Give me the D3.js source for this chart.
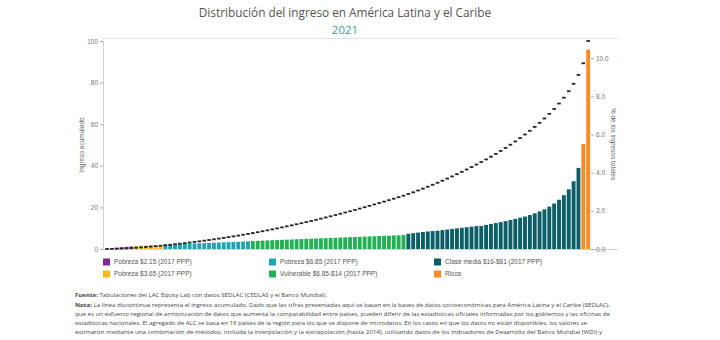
<!DOCTYPE html>
<html><head><meta charset="utf-8">
<script src="https://cdn.jsdelivr.net/npm/d3@7"></script>
<style>body{margin:0;background:#fff}svg{display:block}</style>
</head><body><svg id="c" width="720" height="340"></svg>
<script>
// Income share (% of total income) for each percentile of the income distribution
const shares = [
  0.02,0.05,0.07,0.09,0.11,0.13,
  0.15,0.17,0.18,0.19,0.20,0.21,
  0.23,0.24,0.25,0.26,0.27,0.28,0.29,0.30,0.31,0.32,0.33,0.34,0.35,0.36,0.37,0.38,0.39,0.40,
  0.42,0.43,0.44,0.45,0.46,0.47,0.48,0.49,0.50,0.51,0.52,0.53,0.54,0.55,0.56,0.57,
  0.58,0.59,0.60,0.61,0.62,0.63,0.64,0.65,0.66,0.67,0.68,0.69,0.70,0.71,0.72,0.73,
  0.80,0.83,0.86,0.89,0.92,0.94,0.96,0.99,1.02,1.05,1.08,1.11,1.14,1.17,1.20,
  1.21,1.26,1.31,1.36,1.41,1.46,1.52,1.58,1.64,1.70,1.78,1.87,1.97,2.08,2.22,2.38,
  2.58,2.82,3.13,3.55,4.25,
  5.50,10.45
];
// Cumulative income (%) for each percentile
const cumulative = [
  0.02,0.07,0.14,0.23,0.34,0.47,
  0.62,0.79,0.97,1.16,1.36,1.57,
  1.80,2.04,2.29,2.55,2.82,3.10,3.39,3.69,4.00,4.32,4.65,4.99,5.34,5.70,6.07,6.45,6.84,7.24,
  7.66,8.09,8.53,8.98,9.44,9.91,10.39,10.88,11.38,11.89,12.41,12.94,13.48,14.03,14.59,15.16,
  15.74,16.33,16.93,17.54,18.16,18.79,19.43,20.08,20.74,21.41,22.09,22.78,23.48,24.19,24.91,25.64,
  26.44,27.27,28.13,29.02,29.94,30.88,31.84,32.83,33.85,34.90,35.98,37.09,38.23,39.40,40.60,
  41.81,43.07,44.38,45.74,47.15,48.61,50.13,51.71,53.35,55.05,56.83,58.70,60.67,62.75,64.97,67.35,
  69.93,72.75,75.88,79.43,83.68,
  89.28,100.00
];
const percentiles = d3.range(1, 101);
const groupNames = [
  "Pobreza $2.15 (2017 PPP)",
  "Pobreza $3.65 (2017 PPP)",
  "Pobreza $6.85 (2017 PPP)",
  "Vulnerable $6.85-$14 (2017 PPP)",
  "Clase media $16-$81 (2017 PPP)",
  "Ricos"
];
const groupSizes = [6, 6, 18, 32, 36, 2];
const leftTicks = [0, 20, 40, 60, 80, 100];
const rightTicks = [0, 2, 4, 6, 8, 10];
const titleText = "Distribución del ingreso en América Latina y el Caribe";
const yearText = "2021";
const leftTitle = "Ingreso acumulado";
const rightTitle = "% de los ingresos totales";

const groupColors = ["#7d2b91", "#f8bb11", "#1fa4b2", "#22b155", "#0c5f66", "#fb8b24"];

// percentile -> group index
const groupOf = [];
groupSizes.forEach((n, g) => { for (let k = 0; k < n; k++) groupOf.push(g); });

const svg = d3.select("#c");
const sans = "'Liberation Sans', Arial, sans-serif";

// Title
svg.append("text").attr("x", 345).attr("y", 17).attr("text-anchor", "middle")
  .attr("font-family", "'Open Sans', sans-serif").attr("font-size", 11.8).attr("fill", "#555")
  .text(titleText);
svg.append("text").attr("x", 345).attr("y", 34).attr("text-anchor", "middle")
  .attr("font-family", "'Open Sans', sans-serif").attr("font-size", 11.5).attr("fill", "#3a9f8c")
  .text(yearText);

const x = d3.scaleBand().domain(percentiles).range([104.6, 590.6]).paddingInner(0.2).paddingOuter(0.1);
const yL = d3.scaleLinear().domain([0, 100]).range([249, 41]);
const yR = d3.scaleLinear().domain([0, 10.9]).range([249, 41]);

// frame lines
svg.append("line").attr("x1", 103).attr("x2", 618).attr("y1", 38.5).attr("y2", 38.5)
  .attr("stroke", "#e3e3e3").attr("stroke-width", 1);
svg.append("line").attr("x1", 103).attr("x2", 618).attr("y1", 249.5).attr("y2", 249.5)
  .attr("stroke", "#d0d0d0").attr("stroke-width", 1);

// Bars
svg.append("g").selectAll("rect").data(shares).join("rect")
  .attr("x", (d, i) => x(percentiles[i]))
  .attr("width", x.bandwidth())
  .attr("y", d => yR(d))
  .attr("height", d => yR(0) - yR(d))
  .attr("fill", (d, i) => groupColors[groupOf[i]]);

// Cumulative dashed markers
svg.append("g").selectAll("rect").data(cumulative).join("rect")
  .attr("x", (d, i) => x(percentiles[i]) + x.bandwidth() / 2 - 1.8)
  .attr("width", 3.6)
  .attr("y", d => yL(d) - 0.9)
  .attr("height", 1.8)
  .attr("fill", "#262626");

// Left axis
const gL = svg.append("g").attr("transform", "translate(103,0)")
  .call(d3.axisLeft(yL).tickValues(leftTicks).tickSize(3).tickPadding(2));
gL.select(".domain").attr("stroke", "#cfcfcf");
gL.selectAll(".tick line").attr("stroke", "#aaa");
gL.selectAll("text").attr("font-family", sans).attr("font-size", 6.5).attr("fill", "#777");

// Right axis
const gR = svg.append("g").attr("transform", "translate(591,0)")
  .call(d3.axisRight(yR).tickValues(rightTicks).tickFormat(d3.format(".1f")).tickSize(3).tickPadding(2));
gR.select(".domain").remove();
gR.selectAll(".tick line").attr("stroke", "#aaa");
gR.selectAll("text").attr("font-family", sans).attr("font-size", 6.5).attr("fill", "#777");

// Axis titles
svg.append("text").attr("transform", "translate(84,145) rotate(-90)").attr("text-anchor", "middle")
  .attr("font-family", sans).attr("font-size", 6.5).attr("fill", "#666").text(leftTitle);
svg.append("text").attr("transform", "translate(611,144) rotate(90)").attr("text-anchor", "middle")
  .attr("font-family", sans).attr("font-size", 6.5).attr("fill", "#666").text(rightTitle);

// Legend
const legendPos = [[103, 262], [103, 274], [269, 262], [269, 274], [434, 262], [434, 274]];
const lg = svg.append("g").selectAll("g").data(groupNames).join("g")
  .attr("transform", (d, i) => `translate(${legendPos[i][0]},${legendPos[i][1]})`);
lg.append("rect").attr("x", 0).attr("y", -3.5).attr("width", 7).attr("height", 7)
  .attr("fill", (d, i) => groupColors[i]);
lg.append("text").attr("x", 11).attr("y", 2.4).attr("font-family", sans).attr("font-size", 6.5)
  .attr("fill", "#555").text(d => d);

// Footnote
const notes = [
  [["Fuente:", true], [" Tabulaciones del LAC Equity Lab con datos SEDLAC (CEDLAS y el Banco Mundial).", false]],
  [["Nota:", true], [" La línea discontinua representa el ingreso acumulado. Dado que las cifras presentadas aquí se basan en la bases de datos socioeconómicas para América Latina y el Caribe (SEDLAC),", false]],
  [["que es un esfuerzo regional de armonización de datos que aumenta la comparabilidad entre países, pueden diferir de las estadísticas oficiales informadas por los gobiernos y las oficinas de", false]],
  [["estadísticas nacionales. El agregado de ALC se basa en 18 países de la región para los que se dispone de microdatos. En los casos en que los datos no están disponibles, los valores se", false]],
  [["estimaron mediante una combinación de métodos, incluida la interpolación y la extrapolación (hasta 2014), utilizando datos de los Indicadores de Desarrollo del Banco Mundial (WDI) y", false]]
];
const noteY = [297, 307, 316, 325, 334];
const noteW = [252, 535, 535, 512, 527];
notes.forEach((parts, i) => {
  const t = svg.append("text").attr("x", 75).attr("y", noteY[i])
    .attr("font-family", "'Open Sans', sans-serif").attr("font-size", 6).attr("fill", "#444")
    .attr("textLength", noteW[i]).attr("lengthAdjust", "spacingAndGlyphs");
  parts.forEach(p => t.append("tspan").attr("font-weight", p[1] ? "bold" : "normal").text(p[0]));
});
</script>
</body></html>
